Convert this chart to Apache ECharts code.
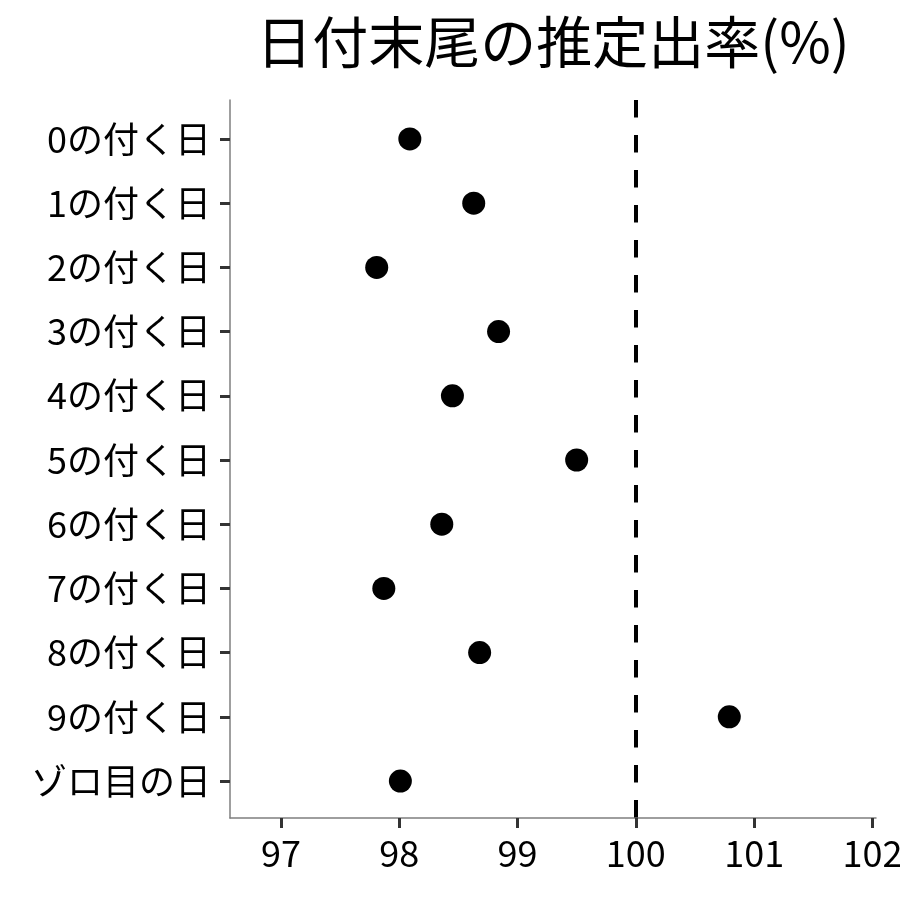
<!DOCTYPE html>
<html>
<head>
<meta charset="utf-8">
<script src="https://cdn.jsdelivr.net/npm/echarts@6/dist/echarts.min.js"></script>
<style>
  html, body { margin: 0; padding: 0; background: #fff; }
  #chart { width: 900px; height: 900px; }
</style>
</head>
<body>
<div id="chart"></div>
<script>
// カテゴリ（上から順）
const categories = ['0の付く日', '1の付く日', '2の付く日', '3の付く日', '4の付く日',
  '5の付く日', '6の付く日', '7の付く日', '8の付く日', '9の付く日', 'ゾロ目の日']
// 推定出率(%)
const rates = [98.09, 98.63, 97.81, 98.84, 98.45, 99.50, 98.36, 97.87, 98.68, 100.79, 98.01]
const xTicks = [97, 98, 99, 100, 101, 102]
const refLine = 100

const font = '"Noto Sans CJK JP", "Noto Sans", sans-serif'
const idx = categories.map((c, i) => i)

let myChart = echarts.init(document.getElementById('chart'))
let option = {
  backgroundColor: '#ffffff',
  animation: false,
  title: {
    text: '日付末尾の推定出率(%)',
    left: 548,
    top: 9,
    textAlign: 'center',
    textStyle: {
      fontFamily: font,
      fontSize: 56,
      fontWeight: 'normal',
      color: '#000',
    },
  },
  grid: {
    left: 230,
    right: 24,
    top: 100,
    bottom: 82,
    outerBoundsMode: 'none',
    containLabel: false,
  },
  xAxis: {
    type: 'value',
    min: 96.57,
    max: 102.03,
    splitLine: { show: false },
    axisLine: {
      show: true,
      onZero: false,
      lineStyle: { color: '#7f7f7f', width: 1.5 },
    },
    axisTick: {
      show: true,
      customValues: xTicks,
      length: 10,
      lineStyle: { color: '#333', width: 3 },
    },
    axisLabel: {
      customValues: xTicks,
      margin: 17,
      fontFamily: font,
      fontSize: 36,
      color: '#000',
    },
  },
  yAxis: {
    type: 'value',
    inverse: true,
    min: -0.607,
    max: 10.576,
    splitLine: { show: false },
    axisLine: {
      show: true,
      onZero: false,
      lineStyle: { color: '#7f7f7f', width: 1.5 },
    },
    axisTick: {
      show: true,
      customValues: idx,
      length: 10,
      lineStyle: { color: '#333', width: 3 },
    },
    axisLabel: {
      customValues: idx,
      margin: 19,
      fontFamily: font,
      fontSize: 36,
      color: '#000',
      formatter: (v) => categories[Math.round(v)] || '',
    },
  },
  series: [
    {
      type: 'scatter',
      data: rates.map((r, i) => [r, i]),
      symbolSize: 23,
      itemStyle: { color: '#000', opacity: 1 },
      markLine: {
        silent: true,
        symbol: 'none',
        label: { show: false },
        lineStyle: { color: '#000', width: 4, type: [17.5, 17.5] },
        data: [{ xAxis: refLine }],
      },
    },
  ],
}
myChart.setOption(option)
window.addEventListener('resize', () => {
  myChart.resize()
})
</script>
</body>
</html>
